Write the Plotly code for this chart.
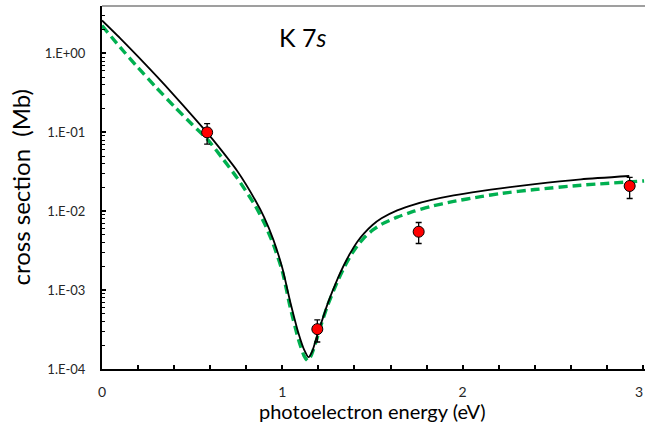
import plotly.graph_objects as go

# Experimental points
exp_x = [0.583, 1.194, 1.756, 2.926]
exp_y = [0.100, 3.2e-4, 5.5e-3, 0.0209]
exp_err_plus = [0.029, 1.0e-4, 1.7e-3, 0.0060]
exp_err_minus = [0.029, 1.0e-4, 1.6e-3, 0.0064]

# Theory curve 1 (solid black): energy (eV), log10(cross section in Mb)
black_x = [0.0, 0.1, 0.2, 0.3, 0.4, 0.5, 0.585, 0.656, 0.75, 0.85, 0.9, 0.95, 1.0,
           1.044, 1.09, 1.12, 1.146, 1.165, 1.19, 1.211, 1.25, 1.304, 1.341, 1.378,
           1.415, 1.452, 1.5, 1.55, 1.637, 1.73, 1.822, 1.95, 2.1, 2.211, 2.4, 2.656,
           2.924]
black_log = [0.418, 0.194, -0.039, -0.281, -0.53, -0.787, -1.01, -1.21, -1.49, -1.86,
             -2.08, -2.36, -2.72, -3.15, -3.55, -3.75, -3.85, -3.78, -3.60, -3.45,
             -3.18, -2.87, -2.685, -2.525, -2.39, -2.285, -2.175, -2.09, -1.99, -1.915,
             -1.86, -1.80, -1.745, -1.71, -1.655, -1.595, -1.553]

# Theory curve 2 (dashed green)
green_x = [0.0, 0.1, 0.2, 0.3, 0.4, 0.5, 0.585, 0.665, 0.75, 0.85, 0.9, 0.95, 1.0,
           1.044, 1.09, 1.12, 1.141, 1.16, 1.19, 1.211, 1.25, 1.304, 1.341, 1.378,
           1.415, 1.452, 1.5, 1.55, 1.637, 1.73, 1.822, 1.95, 2.1, 2.211, 2.4, 2.656,
           3.006]
green_log = [0.354, 0.08, -0.18, -0.43, -0.67, -0.90, -1.09, -1.32, -1.58, -1.93,
             -2.15, -2.42, -2.76, -3.22, -3.63, -3.83, -3.895, -3.83, -3.63, -3.47,
             -3.20, -2.90, -2.72, -2.565, -2.44, -2.34, -2.24, -2.165, -2.075, -2.0,
             -1.94, -1.875, -1.815, -1.775, -1.725, -1.67, -1.616]

y_tickvals = [1e-4, 1e-3, 1e-2, 1e-1, 1e0]
y_ticktext = ["1.E-04", "1.E-03", "1.E-02", "1.E-01", "1.E+00"]
x_tickvals = [0, 1, 2]
x_ticktext = ["0", "1", "2"]
x_last_tick = 3

FONT = "Lato"

fig = go.Figure()
fig.add_trace(go.Scatter(
    x=green_x, y=[10 ** v for v in green_log], mode="lines",
    line=dict(color="#00B050", width=3.4, dash="9px,5px", shape="spline", smoothing=0.6),
    showlegend=False, hoverinfo="skip"))
fig.add_trace(go.Scatter(
    x=black_x, y=[10 ** v for v in black_log], mode="lines",
    line=dict(color="black", width=1.8, shape="spline", smoothing=0.6),
    showlegend=False, hoverinfo="skip"))
fig.add_trace(go.Scatter(
    x=exp_x, y=exp_y, mode="markers",
    marker=dict(color="#FF0000", size=11, line=dict(color="black", width=1)),
    error_y=dict(type="data", symmetric=False, array=exp_err_plus,
                 arrayminus=exp_err_minus, color="black", thickness=1.3, width=3),
    showlegend=False))

fig.update_layout(
    width=645, height=435,
    margin=dict(l=102, r=0, t=5.5, b=66),
    paper_bgcolor="white", plot_bgcolor="white",
    font=dict(family=FONT, color="black"),
    xaxis=dict(
        range=[0, 3 * 543 / 541], tickvals=x_tickvals, ticktext=x_ticktext,
        ticks="inside", ticklen=4, tickwidth=1.5, tickcolor="black",
        minor=dict(dtick=0.2, ticks="inside", ticklen=4, tickwidth=1.5, tickcolor="black"),
        showgrid=False, zeroline=False, showline=True, linecolor="black", linewidth=2,
        tickfont=dict(size=14, color="#262626"), ticklabelstandoff=9),
    yaxis=dict(
        type="log", range=[-4, 0.602], tickvals=y_tickvals, ticktext=y_ticktext,
        ticks="inside", ticklen=4, tickwidth=1.5, tickcolor="black",
        minor=dict(dtick="D1", ticks="inside", ticklen=3, tickwidth=1.2, tickcolor="black"),
        showgrid=False, zeroline=False, showline=True, linecolor="black", linewidth=2,
        tickfont=dict(size=13, color="#262626"), ticklabelstandoff=12),
    shapes=[dict(type="line", xref="paper", yref="paper", x0=0, x1=1, y0=1, y1=1,
                 line=dict(color="#404040", width=1.2))],
    annotations=[
        dict(text=str(x_last_tick), xref="paper", yref="paper", x=1.0, y=-(392 - 369) / 363.5,
             showarrow=False, font=dict(size=14, color="#262626"), xanchor="right",
             yanchor="middle"),
        dict(text="K 7<i>s</i>", xref="x", yref="paper", x=1.11, y=(369 - 37) / 363.5,
             showarrow=False, font=dict(size=25, color="black"), xanchor="center", yanchor="middle"),
        dict(text="cross section  (Mb)", xref="paper", yref="paper", x=(20 - 102) / 543,
             y=0.5, textangle=-90, showarrow=False, font=dict(size=24, color="black"),
             xanchor="center", yanchor="middle"),
        dict(text="photoelectron energy (eV)", xref="paper", yref="paper", x=(372 - 102) / 543,
             y=-(411 - 369) / 363.5, showarrow=False, font=dict(size=20, color="black"),
             xanchor="center", yanchor="middle"),
    ],
)

fig.write_html("out.html")
